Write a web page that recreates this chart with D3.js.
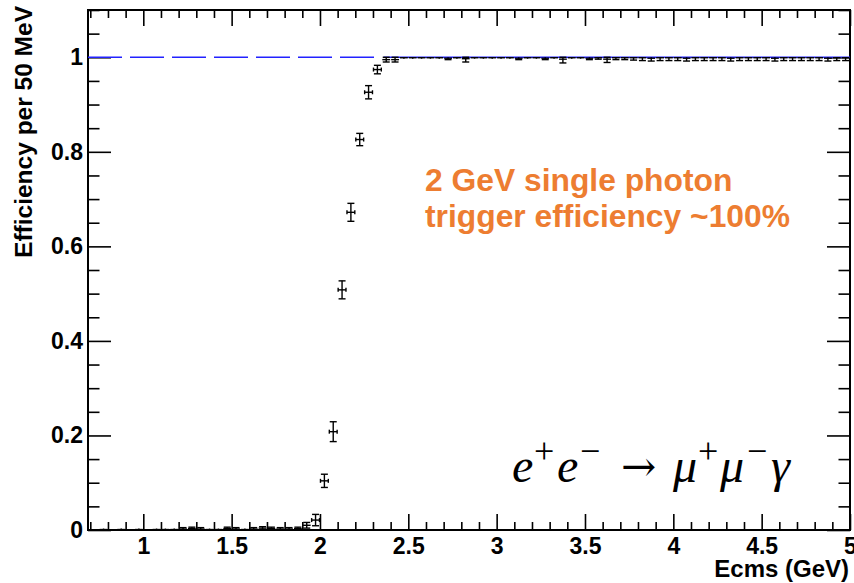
<!DOCTYPE html>
<html>
<head>
<meta charset="utf-8">
<script src="https://cdn.jsdelivr.net/npm/d3@7"></script>
<style>
  body { margin: 0; background: #fff; }
  text { font-family: "Liberation Sans", Arial, Helvetica, sans-serif; font-weight: bold; }
</style>
</head>
<body>
<div id="chart"></div>
<script>
var svgWidth = 854;
var svgHeight = 583;

var margin = { top: 10, right: 4, bottom: 53, left: 88 };
var width = svgWidth - margin.left - margin.right;
var height = svgHeight - margin.top - margin.bottom;

// histogram binning (50 MeV bins)
var binLow = 0.70;
var binWidth = 0.05;

// efficiency per bin (bins 0.70-0.75 ... 4.95-5.00)
var efficiency = [
  0.000, 0.001, 0.000, 0.001, 0.000, 0.001, 0.000, 0.001, 0.001, 0.001,
  0.002, 0.003, 0.002, 0.001, 0.001, 0.003, 0.002, 0.001, 0.002, 0.004,
  0.003, 0.002, 0.002, 0.003, 0.010,
  0.021, 0.104, 0.208, 0.508, 0.672, 0.826, 0.926, 0.974, 0.995, 0.995,
  0.999, 0.999, 0.999, 0.999, 0.999, 0.998, 0.999, 0.997, 0.999, 0.999,
  0.999, 0.999, 0.999, 0.998, 0.999, 0.999, 0.998, 0.999, 0.996, 0.999,
  0.999, 0.998, 0.999, 0.996, 0.999, 0.999, 0.999, 0.999, 0.998, 0.999,
  0.999, 0.999, 0.998, 0.999, 0.999, 0.999, 0.999, 0.998, 0.999, 0.999,
  0.999, 0.999, 0.998, 0.999, 0.999, 0.999, 0.999, 0.999, 0.998, 0.999,
  0.999
];

var errors = [
  0.002, 0.002, 0.002, 0.002, 0.002, 0.002, 0.002, 0.002, 0.002, 0.002,
  0.003, 0.003, 0.003, 0.002, 0.002, 0.003, 0.003, 0.002, 0.003, 0.003,
  0.003, 0.003, 0.003, 0.003, 0.006,
  0.012, 0.014, 0.021, 0.019, 0.019, 0.013, 0.014, 0.009, 0.005, 0.005,
  0.002, 0.002, 0.002, 0.002, 0.002, 0.003, 0.002, 0.007, 0.002, 0.002,
  0.002, 0.002, 0.002, 0.003, 0.002, 0.002, 0.003, 0.002, 0.008, 0.002,
  0.002, 0.003, 0.003, 0.007, 0.004, 0.004, 0.005, 0.006, 0.006, 0.006,
  0.006, 0.006, 0.006, 0.006, 0.006, 0.006, 0.006, 0.006, 0.006, 0.006,
  0.006, 0.006, 0.006, 0.006, 0.006, 0.006, 0.006, 0.006, 0.006, 0.006,
  0.006
];

var xMajorTicks = [1, 1.5, 2, 2.5, 3, 3.5, 4, 4.5, 5];
var xTickLabels = ["1", "1.5", "2", "2.5", "3", "3.5", "4", "4.5", "5"];
var yMajorTicks = [0, 0.2, 0.4, 0.6, 0.8, 1];
var yTickLabels = ["0", "0.2", "0.4", "0.6", "0.8", "1"];

var plateauLevel = 1;
var plateauStart = 2.36;

var svg = d3.select("#chart")
  .append("svg")
  .attr("width", svgWidth)
  .attr("height", svgHeight);

var chartGroup = svg.append("g")
  .attr("transform", `translate(${margin.left}, ${margin.top})`);

var xScale = d3.scaleLinear().domain([0.687, 5.0]).range([0, width]);
var yScale = d3.scaleLinear().domain([0, 1.1]).range([height, 0]);

// minor ticks every 0.1 in x, 0.05 in y
var xMinor = d3.range(7, 51).map(d => d / 10).filter(d => xMajorTicks.indexOf(d) < 0);
var yMinor = d3.range(0, 23).map(d => d / 20).filter(d => yMajorTicks.indexOf(d) < 0);

function styleAxis(g) {
  g.select(".domain").remove();
  g.selectAll("line").attr("stroke", "#000").attr("stroke-width", 1.6);
  g.selectAll("text").attr("font-size", 23).attr("fill", "#000");
}

// bottom axis with labels
chartGroup.append("g")
  .attr("transform", `translate(0, ${height})`)
  .call(d3.axisBottom(xScale).tickValues(xMajorTicks)
    .tickFormat((d, i) => xTickLabels[i]).tickSize(-16).tickPadding(8).tickSizeOuter(0))
  .call(styleAxis);
chartGroup.append("g")
  .attr("transform", `translate(0, ${height})`)
  .call(d3.axisBottom(xScale).tickValues(xMinor).tickFormat("").tickSize(-8).tickSizeOuter(0))
  .call(styleAxis);

// top axis ticks
chartGroup.append("g")
  .call(d3.axisTop(xScale).tickValues(xMajorTicks).tickFormat("").tickSize(-16).tickSizeOuter(0))
  .call(styleAxis);
chartGroup.append("g")
  .call(d3.axisTop(xScale).tickValues(xMinor).tickFormat("").tickSize(-8).tickSizeOuter(0))
  .call(styleAxis);

// left axis with labels
chartGroup.append("g")
  .call(d3.axisLeft(yScale).tickValues(yMajorTicks)
    .tickFormat((d, i) => yTickLabels[i]).tickSize(-23).tickPadding(5).tickSizeOuter(0))
  .call(styleAxis);
chartGroup.append("g")
  .call(d3.axisLeft(yScale).tickValues(yMinor).tickFormat("").tickSize(-11.5).tickSizeOuter(0))
  .call(styleAxis);

// right axis ticks
chartGroup.append("g")
  .attr("transform", `translate(${width}, 0)`)
  .call(d3.axisRight(yScale).tickValues(yMajorTicks).tickFormat("").tickSize(-23).tickSizeOuter(0))
  .call(styleAxis);
chartGroup.append("g")
  .attr("transform", `translate(${width}, 0)`)
  .call(d3.axisRight(yScale).tickValues(yMinor).tickFormat("").tickSize(-11.5).tickSizeOuter(0))
  .call(styleAxis);

// frame
chartGroup.append("rect")
  .attr("x", 0).attr("y", 0)
  .attr("width", width).attr("height", height)
  .attr("fill", "none")
  .attr("stroke", "#000")
  .attr("stroke-width", 2);

// 100% reference line: dashed over the turn-on, solid along the plateau
chartGroup.append("line")
  .attr("x1", xScale(0.687)).attr("x2", xScale(plateauStart - 0.01))
  .attr("y1", yScale(plateauLevel)).attr("y2", yScale(plateauLevel))
  .attr("stroke", "#2222ff")
  .attr("stroke-width", 1.7)
  .attr("stroke-dasharray", "34,8");
chartGroup.append("line")
  .attr("x1", xScale(plateauStart)).attr("x2", xScale(5.0))
  .attr("y1", yScale(plateauLevel)).attr("y2", yScale(plateauLevel))
  .attr("stroke", "#2222ff")
  .attr("stroke-width", 1.7);

// histogram points with error bars
var bins = efficiency.map(function(v, i) {
  var c = binLow + binWidth * (i + 0.5);
  return { x: c, v: v, lo: Math.max(0, v - errors[i]), hi: Math.min(1, v + errors[i]) };
});

var pts = chartGroup.append("g")
  .attr("stroke", "#000")
  .attr("stroke-width", 1.4)
  .attr("fill", "none");

bins.forEach(function(d) {
  var cx = xScale(d.x);
  var cy = yScale(d.v);
  var x0 = xScale(d.x - binWidth / 2) + 0.5;
  var x1 = xScale(d.x + binWidth / 2) - 0.5;
  var yl = yScale(d.lo);
  var yh = yScale(d.hi);
  var g = pts.append("g");
  g.append("line").attr("x1", x0).attr("x2", x1).attr("y1", cy).attr("y2", cy);
  if (d.v > 0.01 && d.v < 0.99) {
    g.append("line").attr("x1", x0).attr("x2", x0).attr("y1", cy - 2).attr("y2", cy + 2);
    g.append("line").attr("x1", x1).attr("x2", x1).attr("y1", cy - 2).attr("y2", cy + 2);
  }
  g.append("line").attr("x1", cx).attr("x2", cx).attr("y1", yl).attr("y2", yh);
  if (cy - yh > 1) {
    g.append("line").attr("x1", cx - 3.5).attr("x2", cx + 3.5).attr("y1", yh).attr("y2", yh);
  }
  if (yl - cy > 1) {
    g.append("line").attr("x1", cx - 3.5).attr("x2", cx + 3.5).attr("y1", yl).attr("y2", yl);
  }
});

// axis titles
svg.append("text")
  .attr("transform", "translate(32, 6) rotate(-90)")
  .attr("text-anchor", "end")
  .attr("font-size", 24.5)
  .text("Efficiency per 50 MeV");

svg.append("text")
  .attr("x", 849)
  .attr("y", 577)
  .attr("text-anchor", "end")
  .attr("font-size", 24)
  .text("Ecms (GeV)");

// annotation
var note = svg.append("text")
  .attr("fill", "#ED7D31")
  .attr("font-size", 31.8);
note.append("tspan").attr("x", 425).attr("y", 191).text("2 GeV single photon");
note.append("tspan").attr("x", 425).attr("y", 227).text("trigger efficiency ~100%");

// process label, e+e- -> mu+mu- gamma
var procParts = [
  { t: "e", x: 512, dy: 0, size: 48, italic: true },
  { t: "+", x: 534, dy: -19, size: 36, italic: false },
  { t: "e", x: 557, dy: 0, size: 48, italic: true },
  { t: "\u2212", x: 580, dy: -19, size: 36, italic: false },
  { t: "\u2192", x: 621, dy: -1, size: 42, italic: false },
  { t: "\u03bc", x: 673, dy: 0, size: 48, italic: true },
  { t: "+", x: 698, dy: -19, size: 36, italic: false },
  { t: "\u03bc", x: 720, dy: 0, size: 48, italic: true },
  { t: "\u2212", x: 747, dy: -19, size: 36, italic: false },
  { t: "\u03b3", x: 771, dy: 0, size: 48, italic: true }
];
svg.append("g")
  .selectAll("text")
  .data(procParts)
  .enter()
  .append("text")
  .attr("x", d => d.x)
  .attr("y", d => 482 + d.dy)
  .attr("font-size", d => d.size)
  .style("font-family", d => d.t === "\u2192" ? "'DejaVu Serif', serif" : "'Liberation Serif', 'Times New Roman', serif")
  .style("font-weight", "normal")
  .style("font-style", d => d.italic ? "italic" : "normal")
  .attr("fill", "#000")
  .text(d => d.t);
</script>
</body>
</html>
